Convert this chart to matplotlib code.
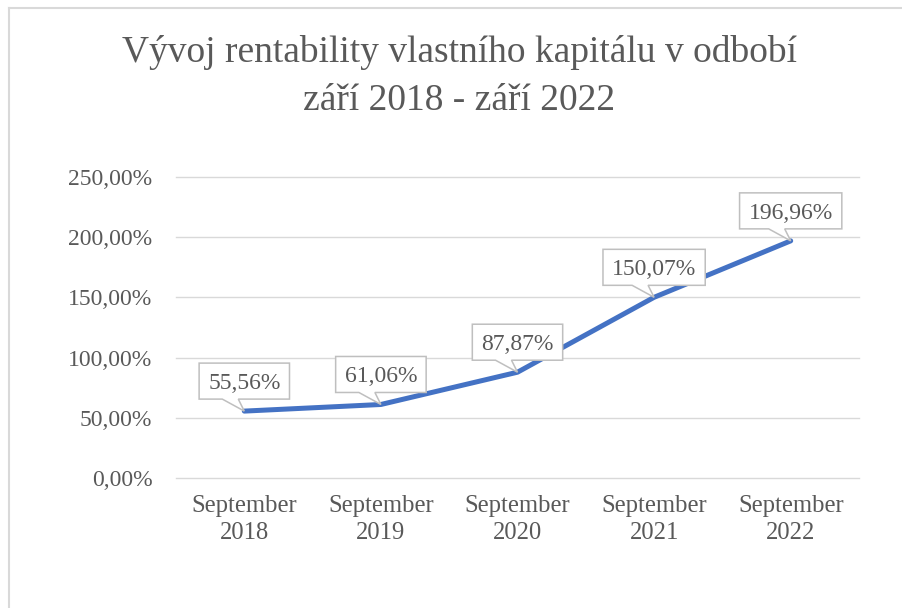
import matplotlib
matplotlib.use("Agg")
import matplotlib.pyplot as plt
from matplotlib.patches import Polygon
from matplotlib.lines import Line2D
from matplotlib.transforms import IdentityTransform
from matplotlib.ticker import FuncFormatter

categories = ["September\n2018", "September\n2019", "September\n2020", "September\n2021", "September\n2022"]
values = [55.56, 61.06, 87.87, 150.07, 196.96]
yticks = [0, 50, 100, 150, 200, 250]
title_lines = ["Vývoj rentability vlastního kapitálu v odbobí", "září 2018 - září 2022"]

TXT = "#595959"
plt.rcParams['font.family'] = ['Liberation Serif', 'DejaVu Serif']

W, H = 903, 608
fig = plt.figure(figsize=(W / 100, H / 100), dpi=100)
fig.patch.set_facecolor("white")

L, R, T, B = 176, 859, 177, 478
ax = fig.add_axes([L / W, (H - B) / H, (R - L) / W, (B - T) / H])
ax.set_xlim(-0.5, len(categories) - 0.5)
ax.set_ylim(0, 250)
for s in ax.spines.values():
    s.set_visible(False)
ax.set_yticks(yticks)
ax.yaxis.set_major_formatter(FuncFormatter(lambda v, p: f"{v:.2f}".replace(".", ",") + "%"))
ax.grid(axis="y", color="#D9D9D9", lw=1.0)
for gl in ax.get_ygridlines():
    gl.set_clip_on(False)
ax.set_axisbelow(True)
ax.set_xticks(range(len(categories)))
ax.set_xticklabels(categories, linespacing=1.3)
ax.tick_params(axis="both", length=0, labelcolor=TXT)
ax.tick_params(axis="y", pad=17, labelsize=17)
ax.tick_params(axis="x", pad=12, labelsize=17.7)

x = list(range(len(values)))
ax.plot(x, values, color="#4472C4", lw=3.6, solid_capstyle="round", solid_joinstyle="round", zorder=3)

fig.text(0.5 + 8 / W, 1 - 62 / H, title_lines[0], ha="center", va="baseline", fontsize=27, color=TXT)
fig.text(0.5 + 8 / W, 1 - 110 / H, title_lines[1], ha="center", va="baseline", fontsize=27, color=TXT)

# outer border (left and top only visible)
fig.add_artist(Line2D([9 / W, 9 / W], [0, 1 - 8 / H], color="#D9D9D9", lw=1.5, transform=fig.transFigure))
fig.add_artist(Line2D([9 / W, 1], [1 - 8 / H, 1 - 8 / H], color="#D9D9D9", lw=1.5, transform=fig.transFigure))

# callouts
renderer = fig.canvas.get_renderer()
ident = IdentityTransform()
for xi, v in zip(x, values):
    px, py = ax.transData.transform((xi, v))
    lab = f"{v:.2f}".replace(".", ",") + "%"
    cx, cy = px, py + 30
    t = fig.text(cx, cy, lab, ha="center", va="center_baseline", fontsize=17, color=TXT,
                 transform=ident, zorder=6)
    ext = t.get_window_extent(renderer)
    w = ext.width + 18
    bl, br = cx - w / 2, cx + w / 2
    bb, bt = py + 12, py + 48
    p0, p1 = px - 22, px - 6
    verts = [(bl, bb), (bl, bt), (br, bt), (br, bb), (p1, bb), (px, py), (p0, bb)]
    poly = Polygon(verts, closed=True, facecolor="white", edgecolor="#BFBFBF", lw=1.1,
                   transform=ident, zorder=5)
    fig.add_artist(poly)

fig.savefig("out.png", dpi=100)
